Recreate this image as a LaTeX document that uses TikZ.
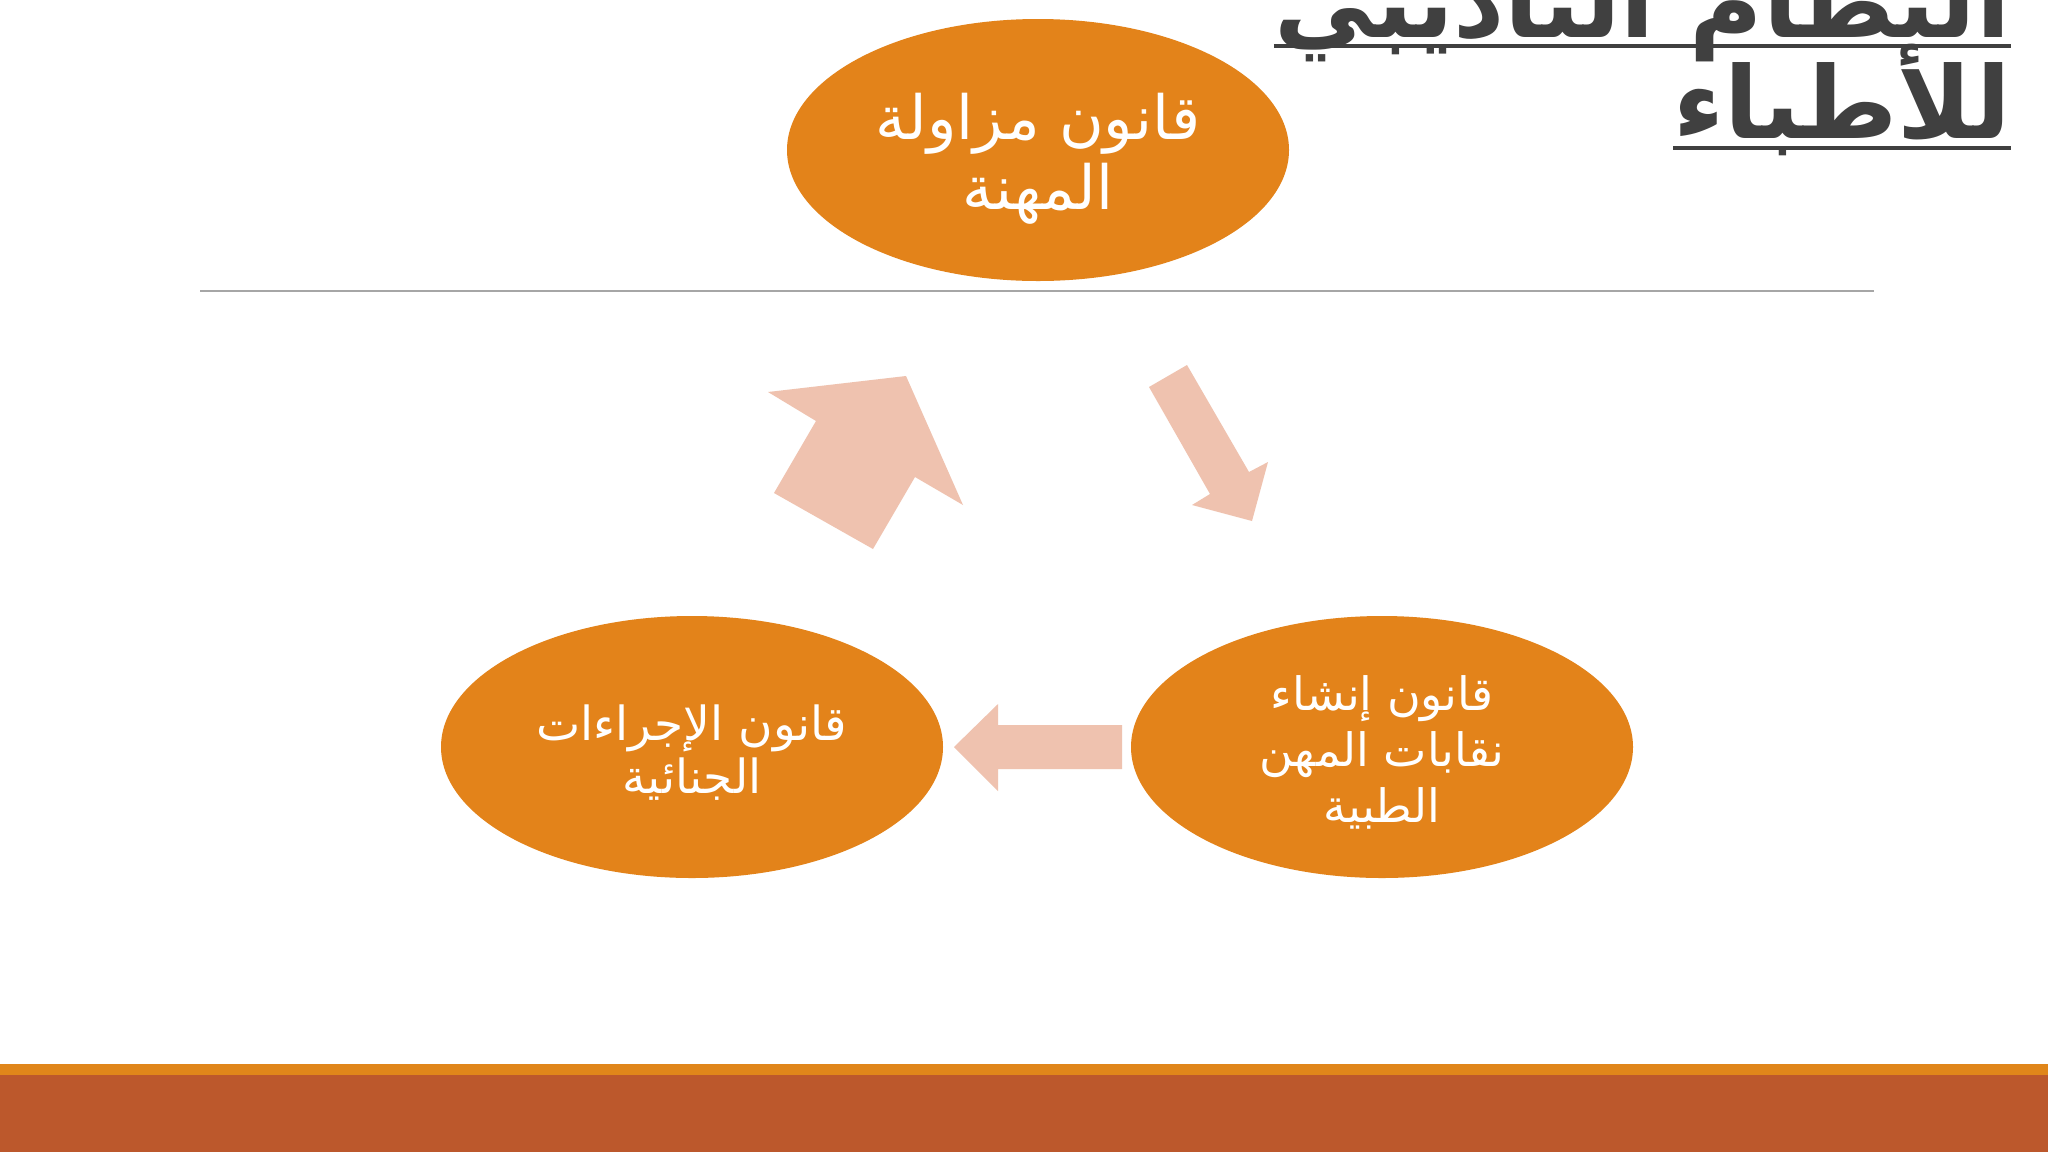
\documentclass[tikz,border=0pt]{standalone}
\usepackage{fontspec}
\usetikzlibrary{shapes.geometric}
\newfontfamily\arabicfont[Script=Arabic]{DejaVu Sans}
\TeXXeTstate=1
\definecolor{ellorange}{HTML}{E3831A}
\definecolor{arrowpink}{HTML}{EFC2AF}
\definecolor{titlegray}{HTML}{404040}
\definecolor{bandorange}{HTML}{E0861A}
\definecolor{banddark}{HTML}{BC582C}
\definecolor{linegray}{HTML}{A6A6A6}
\begin{document}
\begin{tikzpicture}[x=1pt,y=-1pt,
  blob/.style={ellipse, fill=ellorange, minimum width=502pt, minimum height=262pt, inner sep=0pt},
  blobtext/.style={inner sep=0pt, text=white, align=center},
  flow/.style={fill=arrowpink, draw=none},
  ttl/.style={anchor=base east, inner sep=0pt, text=titlegray, font=\arabicfont\bfseries\fontsize{100}{104}\selectfont},
  uline/.style={draw=titlegray, line width=4pt}]
\useasboundingbox (0,0) rectangle (2048,1152);
\fill[white] (0,0) rectangle (2048,1152);
\fill[bandorange] (0,1064) rectangle (2048,1075);
\fill[banddark] (0,1075) rectangle (2048,1152);
\draw[linegray, line width=2pt] (200,291) -- (1874,291);

% title
\node[ttl] (t1) at (2011,37) {\beginR النظام التأديبي\endR};
\node[ttl] (t2) at (2011,138) {\beginR للأطباء\endR};
\draw[uline] ([yshift=-9pt]t1.base west) -- ([yshift=-9pt]t1.base east);
\draw[uline] ([yshift=-10pt]t2.base west) -- ([yshift=-10pt]t2.base east);

% ellipses
\node[blob] (e1) at (1038,150) {};
\node[blob] (e2) at (1382,747) {};
\node[blob] (e3) at (692,747) {};
\node[blobtext, font=\arabicfont\fontsize{61}{70}\selectfont, yshift=-9pt] (l1) at (e1)
  {\beginR قانون مزاولة\endR\\\beginR المهنة\endR};
\node[blobtext, font=\arabicfont\fontsize{46}{56}\selectfont, yshift=-5pt] (l2) at (e2)
  {\beginR قانون إنشاء\endR\\\beginR نقابات المهن\endR\\\beginR الطبية\endR};
\node[blobtext, font=\arabicfont\fontsize{47}{53}\selectfont, yshift=-6pt] (l3) at (e3)
  {\beginR قانون الإجراءات\endR\\\beginR الجنائية\endR};

% block arrows
\fill[flow] (1149,387) -- (1187,365) -- (1249,472) -- (1268,462) -- (1252,521) -- (1192,505) -- (1210,494) -- cycle;
\fill[flow] (1122,725) -- (998,725) -- (998,704) -- (954,747) -- (998,791) -- (998,769) -- (1122,769) -- cycle;
\fill[flow] (774,493) -- (873,549) -- (915,477) -- (963,505) -- (906,376) -- (768,392) -- (816,421) -- cycle;
\end{tikzpicture}
\end{document}
